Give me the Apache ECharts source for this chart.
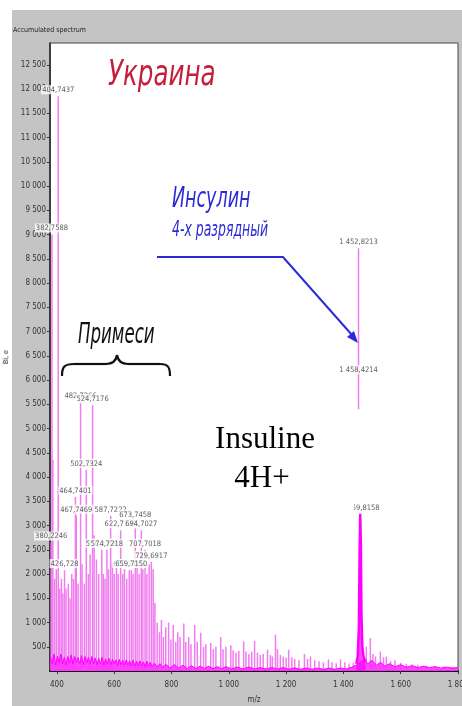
<!DOCTYPE html>
<html>
<head>
<meta charset="utf-8">
<title>Accumulated spectrum</title>
<style>
  html, body { margin: 0; padding: 0; background: #fff; }
  #chart { width: 462px; height: 706px; }
</style>
<script src="https://cdn.jsdelivr.net/npm/echarts@6/dist/echarts.min.js"></script>
</head>
<body>
<div id="chart"></div>
<script>
// stick spectrum (m/z, intensity)
var peakMz = [380.2, 382.8, 386, 392, 398, 404.7, 410, 416, 421, 426.7, 432, 440, 446, 452, 458,
  464.7, 467.7, 474, 482.7, 488, 496, 502.7, 510, 516, 524.7, 530, 538, 546, 556.7, 562, 568,
  574.7, 580, 587.7, 594, 600, 608, 614, 622.7, 630, 636, 644, 652.7, 659.7, 666, 673.7, 680,
  687, 694.7, 700, 707.7, 714, 722, 729.7, 736, 742,
  750, 758, 765, 772, 780, 790, 798, 806, 815, 822, 830, 843, 850, 860, 868, 881, 890, 902,
  912, 920, 937, 946, 955, 972, 980, 990, 1007, 1015, 1025, 1035, 1052, 1060, 1070, 1080,
  1090, 1100, 1110, 1120, 1135, 1145, 1152, 1163, 1170, 1180, 1190, 1200, 1209, 1220, 1230,
  1245, 1264, 1275, 1285, 1300, 1315, 1330, 1348, 1360, 1375, 1390, 1405, 1420, 1435,
  1480, 1494, 1503, 1512, 1529, 1540, 1550, 1565, 1580, 1600, 1620, 1640, 1660,
  1690, 1720, 1750, 1780];
var peakInt = [2650, 9000, 4350, 1900, 2100, 11850, 1700, 1900, 1600, 2080, 1700, 1800, 1500, 2000, 1900,
  3590, 3200, 1800, 5550, 2200, 1800, 4150, 2000, 2400, 5480, 2800, 2300, 2000, 2500, 2000, 1900,
  2500, 2100, 3200, 2200, 2000, 2300, 2000, 2900, 2000, 2100, 1900, 2080, 2080, 2000, 3100, 2200,
  2000, 2900, 2100, 2500, 2000, 2200, 2250, 2100, 1400,
  1000, 800, 1050, 700, 900, 1000, 650, 950, 600, 800, 700, 980, 600, 700, 550, 950, 600, 790,
  500, 550, 580, 450, 500, 700, 450, 500, 530, 430, 380, 420, 610, 400, 350, 400,
  620, 380, 330, 350, 440, 330, 300, 750, 450, 330, 300, 280, 440, 280, 250,
  220, 350, 250, 300, 220, 200, 180, 240, 180, 160, 240, 180, 150, 170,
  500, 680, 350, 300, 400, 280, 300, 200, 220, 170, 150, 140, 130,
  110, 100, 90, 80];

// main insulin 4H+ peak profile
var insulinMz = [1445, 1450, 1454, 1456.5, 1458.8, 1461, 1463, 1466, 1470, 1476];
var insulinInt = [150, 300, 900, 2400, 3240, 2600, 1200, 500, 300, 200];

// cursor line at 1452,8213 (visible part)
var markerMz = [1452.8, 1452.8];
var markerInt = [5400, 8720];

// baseline noise band
var noiseMz = [377, 384, 390, 396, 402, 408, 414, 420, 426, 432, 438, 444, 450, 456, 462, 468, 474,
  480, 486, 492, 498, 504, 510, 516, 522, 528, 534, 540, 546, 552, 558, 564, 570, 576, 582, 588,
  594, 600, 606, 612, 618, 624, 630, 636, 642, 648, 654, 660, 666, 672, 678, 684, 690, 696, 702,
  708, 714, 720, 726, 732, 740, 750, 760, 770, 780, 795, 810, 825, 840, 855, 870, 885, 900, 915,
  930, 945, 960, 975, 990, 1010, 1030, 1050, 1070, 1090, 1110, 1130, 1150, 1170, 1190, 1210,
  1230, 1250, 1270, 1290, 1310, 1330, 1350, 1370, 1390, 1410, 1430, 1445, 1475, 1485, 1500,
  1515, 1530, 1545, 1560, 1580, 1600, 1620, 1640, 1660, 1680, 1700, 1720, 1740, 1760, 1780, 1800];
var noiseInt = [300, 150, 350, 120, 300, 180, 350, 150, 280, 120, 300, 160, 330, 140, 300, 180, 280,
  150, 320, 130, 300, 160, 280, 140, 300, 150, 270, 130, 260, 150, 280, 120, 250, 140, 260, 130,
  240, 150, 230, 120, 240, 130, 220, 110, 230, 120, 210, 110, 220, 100, 200, 110, 210, 100, 190,
  90, 200, 100, 180, 90, 160, 80, 150, 70, 140, 60, 130, 60, 120, 50, 110, 50, 100, 50,
  100, 45, 90, 45, 90, 40, 80, 40, 80, 40, 70, 40, 70, 40, 70, 35,
  65, 35, 60, 35, 60, 35, 60, 35, 60, 40, 80, 120, 250, 150, 220,
  120, 180, 100, 150, 90, 130, 80, 110, 70, 100, 70, 90, 60, 80, 60, 70];

// annotated peaks
var labelMz = [380.2, 382.8, 404.7, 426.7, 464.7, 467.7, 482.7, 524.7, 502.7, 556.7, 574.7, 587.7,
  673.7, 622.7, 694.7, 707.7, 652.7, 659.7, 729.7, 1452.8, 1452.8, 1458.8];
var labelInt = [2650, 9000, 11850, 2080, 3590, 3200, 5550, 5480, 4150, 2500, 2500, 3200,
  3100, 2900, 2900, 2500, 2080, 2080, 2250, 8720, 6210, 3240];
var labelText = ['380,2246', '382,7588', '404,7437', '426,728', '464,7401', '467,7469', '482,7266',
  '524,7176', '502,7324', '556,7209', '574,7218', '587,7222', '673,7458', '622,7147', '694,7027',
  '707,7018', '652,7192', '659,7150', '729,6917', '1 452,8213', '1 458,4214', '1 459,8158'];

var xTicks = [400, 600, 800, 1000, 1200, 1400, 1600, 1800];
var yTicks = [500, 1000, 1500, 2000, 2500, 3000, 3500, 4000, 4500, 5000, 5500, 6000, 6500,
  7000, 7500, 8000, 8500, 9000, 9500, 10000, 10500, 11000, 11500, 12000, 12500];

var NARROW = '"Liberation Sans Narrow", "DejaVu Sans Condensed", sans-serif';

function pairs(a, b) {
  return a.map(function (v, i) { return [v, b[i]]; });
}
function fmt(v) {
  return String(v).replace(/\B(?=(\d{3})+(?!\d))/g, ' ');
}

var labelData = labelMz.map(function (m, i) {
  var inside = labelText[i] == '1 458,4214';
  return {
    value: [m, labelInt[i]],
    label: {
      show: true,
      formatter: labelText[i],
      position: inside ? 'inside' : 'top',
      distance: 2
    }
  };
});

// curly brace under "Примеси"
var braceStyle = { stroke: '#111', lineWidth: 2.2, fill: null };
var brace = [
  { type: 'bezierCurve', z: 10, shape: { x1: 62, y1: 376, cpx1: 62, cpy1: 367, cpx2: 64, cpy2: 364, x2: 74, y2: 364 }, style: braceStyle },
  { type: 'line', z: 10, shape: { x1: 74, y1: 364, x2: 106, y2: 364 }, style: braceStyle },
  { type: 'bezierCurve', z: 10, shape: { x1: 106, y1: 364, cpx1: 113, cpy1: 364, cpx2: 116, cpy2: 361, x2: 117, y2: 355 }, style: braceStyle },
  { type: 'bezierCurve', z: 10, shape: { x1: 117, y1: 355, cpx1: 118, cpy1: 361, cpx2: 121, cpy2: 364, x2: 128, y2: 364 }, style: braceStyle },
  { type: 'line', z: 10, shape: { x1: 128, y1: 364, x2: 160, y2: 364 }, style: braceStyle },
  { type: 'bezierCurve', z: 10, shape: { x1: 160, y1: 364, cpx1: 168, cpy1: 364, cpx2: 170, cpy2: 367, x2: 170, y2: 376 }, style: braceStyle }
];

var chart = echarts.init(document.getElementById('chart'));
chart.setOption({
  animation: false,
  backgroundColor: '#c4c4c4',
  grid: {
    left: 50, right: 4, top: 43, bottom: 35,
    outerBoundsMode: 'none', containLabel: false,
    show: true, backgroundColor: '#fff', borderColor: '#444', borderWidth: 1
  },
  xAxis: {
    type: 'value', min: 376, max: 1800,
    name: 'm/z', nameLocation: 'middle', nameGap: 25,
    nameTextStyle: { fontSize: 8, color: '#333', fontFamily: NARROW },
    axisLine: { show: true, lineStyle: { color: '#111', width: 2 } },
    axisTick: { show: true, customValues: xTicks, length: 3, lineStyle: { color: '#333' } },
    axisLabel: { customValues: xTicks, formatter: fmt, fontSize: 8, color: '#333', margin: 10, fontFamily: NARROW },
    splitLine: { show: false }
  },
  yAxis: {
    type: 'value', min: 0, max: 12950,
    name: 'Bi, e', nameLocation: 'middle', nameGap: 33, nameRotate: 90,
    nameTextStyle: { fontSize: 7, color: '#333', fontFamily: NARROW },
    axisLine: { show: true, lineStyle: { color: '#222', width: 1.5 } },
    axisTick: { show: true, customValues: yTicks, length: 3, lineStyle: { color: '#333' } },
    axisLabel: { customValues: yTicks, formatter: fmt, fontSize: 8, color: '#333', margin: 4, fontFamily: NARROW },
    splitLine: { show: false }
  },
  series: [
    {
      type: 'bar', data: pairs(peakMz, peakInt), barWidth: 1.5,
      itemStyle: { color: '#f07cf0' }, z: 2
    },
    {
      type: 'line', data: pairs(markerMz, markerInt), symbol: 'none',
      lineStyle: { color: '#f07cf0', width: 1.5 }, z: 2
    },
    {
      type: 'line', data: pairs(noiseMz, noiseInt), symbol: 'none',
      lineStyle: { color: '#ff00ff', width: 1 },
      areaStyle: { color: '#ff33ff', opacity: 0.9 }, z: 3
    },
    {
      type: 'line', data: pairs(insulinMz, insulinInt), symbol: 'none',
      lineStyle: { color: '#ff00ff', width: 2.5 },
      areaStyle: { color: '#ff00ff' }, z: 3
    },
    {
      type: 'scatter', data: labelData, symbolSize: 0.1,
      itemStyle: { color: 'transparent' },
      label: {
        color: '#333', fontSize: 7.5, fontFamily: NARROW,
        backgroundColor: '#fff', padding: [1, 1, 0, 1]
      },
      z: 5
    }
  ],
  graphic: [
    { type: 'rect', shape: { x: 0, y: 0, width: 462, height: 10 }, style: { fill: '#fff' } },
    { type: 'rect', shape: { x: 0, y: 0, width: 12, height: 706 }, style: { fill: '#fff' } },
    { type: 'text', x: 13, y: 30, style: { text: 'Accumulated spectrum', font: '7px ' + NARROW, fill: '#222', verticalAlign: 'middle' } },
    { type: 'text', x: 108, y: 76, scaleX: 0.78, z: 10,
      style: { text: 'Украина', font: 'italic 35px ' + NARROW, fill: '#c41e3a', verticalAlign: 'middle' } },
    { type: 'text', x: 172, y: 199, scaleX: 0.67, z: 10,
      style: { text: 'Инсулин', font: 'italic 29px ' + NARROW, fill: '#2b2bd6', verticalAlign: 'middle' } },
    { type: 'text', x: 172, y: 231, scaleX: 0.66, z: 10,
      style: { text: '4-х разрядный', font: 'italic 21px ' + NARROW, fill: '#2b2bd6', verticalAlign: 'middle' } },
    { type: 'polyline', z: 10, shape: { points: [[157, 257], [283, 257], [352, 335]] },
      style: { stroke: '#2b2bd6', lineWidth: 2, fill: null } },
    { type: 'polygon', z: 10, shape: { points: [[358, 343], [347, 337], [354, 331]] },
      style: { fill: '#2b2bd6' } },
    { type: 'text', x: 78, y: 336, scaleX: 0.66, z: 10,
      style: { text: 'Примеси', font: 'italic 28px ' + NARROW, fill: '#111', verticalAlign: 'middle' } }
  ].concat(brace).concat([
    { type: 'rect', z: 20, shape: { x: 197, y: 405, width: 157, height: 108 }, style: { fill: '#fff' } },
    { type: 'text', x: 265, y: 440, z: 21,
      style: { text: 'Insuline', font: '31px "Liberation Serif", "Times New Roman", serif', fill: '#000', align: 'center', verticalAlign: 'middle' } },
    { type: 'text', x: 262, y: 479, z: 21,
      style: { text: '4H+', font: '31px "Liberation Serif", "Times New Roman", serif', fill: '#000', align: 'center', verticalAlign: 'middle' } }
  ])
});
</script>
</body>
</html>
